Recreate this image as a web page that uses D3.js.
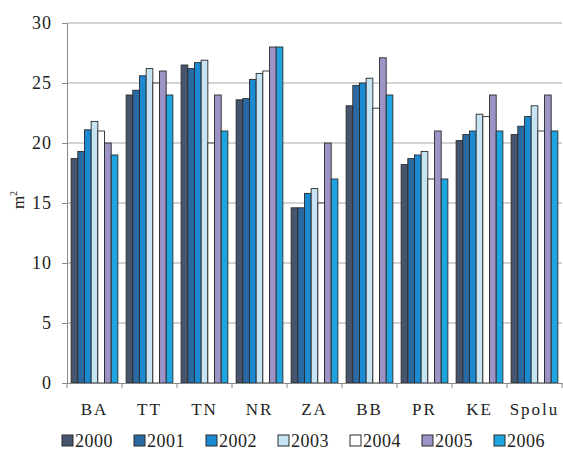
<!DOCTYPE html>
<html lang="en">
<meta charset="utf-8">
<head>
  <script src="https://d3js.org/d3.v7.min.js"></script>
</head>
<body>
  <div id="my_dataviz"></div>
  <script>
    // data
    var regions = ["BA", "TT", "TN", "NR", "ZA", "BB", "PR", "KE", "Spolu"];
    var years = ["2000", "2001", "2002", "2003", "2004", "2005", "2006"];
    var y2000 = [18.7, 24.0, 26.5, 23.6, 14.6, 23.1, 18.2, 20.2, 20.7];
    var y2001 = [19.3, 24.4, 26.2, 23.7, 14.6, 24.8, 18.7, 20.7, 21.4];
    var y2002 = [21.1, 25.6, 26.7, 25.3, 15.8, 25.0, 19.0, 21.0, 22.2];
    var y2003 = [21.8, 26.2, 26.9, 25.8, 16.2, 25.4, 19.3, 22.4, 23.1];
    var y2004 = [21.0, 25.0, 20.0, 26.0, 15.0, 22.9, 17.0, 22.2, 21.0];
    var y2005 = [20.0, 26.0, 24.0, 28.0, 20.0, 27.1, 21.0, 24.0, 24.0];
    var y2006 = [19.0, 24.0, 21.0, 28.0, 17.0, 24.0, 17.0, 21.0, 21.0];
    var yTicks = [0, 5, 10, 15, 20, 25, 30];
    var colors = ["#46546e", "#2a6aa3", "#1c8ad0", "#c6e4f4", "#ffffff", "#9c94c6", "#1ea5e0"];

    var series = [y2000, y2001, y2002, y2003, y2004, y2005, y2006];
    var serif = "Liberation Serif, DejaVu Serif, serif";

    var margin = { top: 23, right: 1, bottom: 74, left: 67 },
      width = 563 - margin.left - margin.right,
      height = 457 - margin.top - margin.bottom;

    var root = d3.select("#my_dataviz")
      .append("svg")
      .attr("width", 563)
      .attr("height", 457);

    var svg = root.append("g")
      .attr("transform", "translate(" + margin.left + "," + margin.top + ")");

    var x = d3.scaleBand().domain(regions).range([0, width]).paddingInner(0.15).paddingOuter(0.075);
    var xb = d3.scaleBand().domain(regions).range([0, width]);
    var xs = d3.scaleBand().domain(years).range([0, x.bandwidth()]);
    var y = d3.scaleLinear().domain([0, 30]).range([height, 0]);

    // grid lines
    svg.selectAll(".grid").data(yTicks.filter(function (d) { return d > 0; }))
      .enter().append("line")
      .attr("x1", 0).attr("x2", width)
      .attr("y1", function (d) { return y(d); })
      .attr("y2", function (d) { return y(d); })
      .attr("stroke", "#a8a8a8").attr("stroke-width", 1.2);

    // bars
    var groups = svg.selectAll(".grp").data(regions)
      .enter().append("g")
      .attr("transform", function (d) { return "translate(" + x(d) + ",0)"; });

    groups.selectAll("rect")
      .data(function (d, i) { return series.map(function (s, j) { return { year: years[j], v: s[i], c: colors[j] }; }); })
      .enter().append("rect")
      .attr("x", function (d) { return xs(d.year); })
      .attr("width", xs.bandwidth())
      .attr("y", function (d) { return y(d.v); })
      .attr("height", function (d) { return height - y(d.v); })
      .attr("fill", function (d) { return d.c; })
      .attr("stroke", "#2a2a2a").attr("stroke-width", 0.9);

    // y axis
    var yAxis = svg.append("g").call(d3.axisLeft(y).tickValues(yTicks).tickSize(5).tickPadding(10))
      .attr("font-family", serif);
    yAxis.selectAll("text").style("font-size", "18px").style("letter-spacing", "1px").attr("fill", "#222");
    yAxis.select(".domain").attr("stroke", "#888");
    yAxis.selectAll(".tick line").attr("stroke", "#888");

    // x axis
    var xAxis = svg.append("g").attr("transform", "translate(0," + height + ")")
      .call(d3.axisBottom(xb).tickSize(0).tickPadding(20))
      .attr("font-family", serif);
    xAxis.select(".domain").attr("stroke", "#888");
    xAxis.selectAll("text").style("font-size", "17px").style("letter-spacing", "2px").attr("fill", "#222");
    xAxis.selectAll(".sep").data(regions.concat(["end"]))
      .enter().append("line")
      .attr("x1", function (d, i) { return i * xb.bandwidth(); })
      .attr("x2", function (d, i) { return i * xb.bandwidth(); })
      .attr("y1", 0).attr("y2", 5)
      .attr("stroke", "#888");

    // y label
    root.append("text")
      .attr("transform", "translate(24,200) rotate(-90)")
      .attr("text-anchor", "middle")
      .attr("font-family", serif)
      .style("font-size", "17px")
      .attr("fill", "#222")
      .html("m<tspan dy='-7' font-size='10px'>2</tspan>");

    // legend
    var legend = root.append("g").attr("transform", "translate(62,435)").attr("font-family", serif);
    var li = legend.selectAll(".li").data(years)
      .enter().append("g")
      .attr("transform", function (d, i) { return "translate(" + (i * 72) + ",0)"; });
    li.append("rect").attr("width", 11).attr("height", 11)
      .attr("fill", function (d, i) { return colors[i]; })
      .attr("stroke", "#2a2a2a").attr("stroke-width", 1);
    li.append("text").attr("x", 13).attr("y", 11.5)
      .style("font-size", "18px").style("letter-spacing", "0.5px").attr("fill", "#222")
      .text(function (d) { return d; });
  </script>
  <style>
    body { margin: 0; background: #fff; }
  </style>
</body>
</html>
